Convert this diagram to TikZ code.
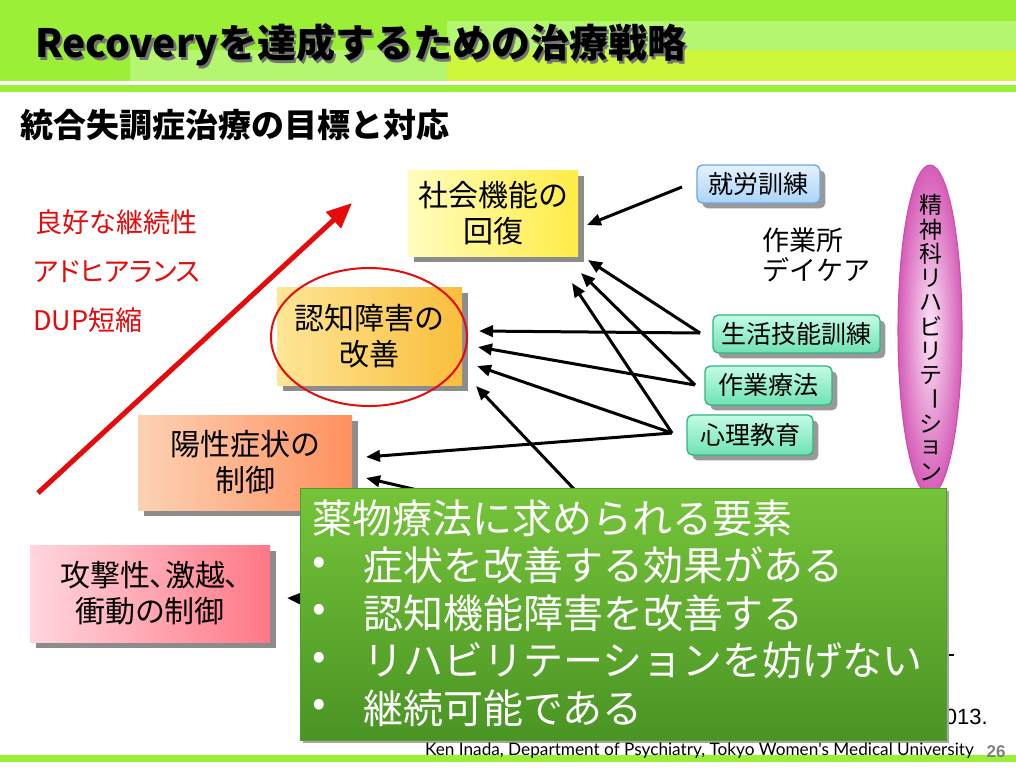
\documentclass[tikz,border=0pt]{standalone}
\usepackage{fontspec}
\usepackage{graphicx}
\setmainfont{Noto Sans CJK JP}
\newfontfamily\jpprop[RawFeature=+palt]{Noto Sans CJK JP}
\newfontfamily\arialf{Liberation Sans}
\newfontfamily\footf{Lato}
\usetikzlibrary{arrows.meta,shadows,shapes.geometric}
\definecolor{hdgreen}{RGB}{155,240,55}
\definecolor{hdlight}{RGB}{180,246,112}
\definecolor{hdyellow}{RGB}{206,246,58}
\definecolor{redtxt}{RGB}{230,10,10}
\newcommand\chouon{\rotatebox[origin=c]{-90}{ー}}
\tikzset{
  bigbox/.style={draw=none, inner sep=0pt, align=center,
    font=\fontsize{22.5pt}{27pt}\selectfont,
    drop shadow={shadow xshift=4.5pt, shadow yshift=-4.5pt, fill=black!45, opacity=1}},
  smallbox/.style={rounded corners=4pt, inner sep=0pt, line width=1pt,
    font=\fontsize{18.75pt}{22pt}\selectfont,
    drop shadow={shadow xshift=4pt, shadow yshift=-4pt, fill=black!40, opacity=1}},
  bluebox/.style={smallbox, draw={rgb,255:red,110;green,165;blue,220},
    top color={rgb,255:red,228;green,242;blue,255}, bottom color={rgb,255:red,170;green,212;blue,248}},
  tealbox/.style={smallbox, draw={rgb,255:red,50;green,180;blue,130},
    top color={rgb,255:red,196;green,252;blue,230}, bottom color={rgb,255:red,110;green,226;blue,178}},
  blk/.style={line width=2.25pt, -{Triangle[length=10.5pt,width=8.5pt]}},
  redlbl/.style={anchor=west, inner sep=0pt, text=redtxt, font=\fontsize{20.25pt}{24pt}\selectfont},
  greentxt/.style={anchor=west, inner sep=0pt, text=white, font=\fontsize{30pt}{34pt}\selectfont},
  titlefont/.style={anchor=west, inner sep=0pt, font=\bfseries\fontsize{29.25pt}{32pt}\selectfont},
}
\begin{document}
\begin{tikzpicture}[x=0.75pt,y=-0.75pt]
\useasboundingbox (0,0) rectangle (1016,768);
\fill[white] (0,0) rectangle (1016,768);
% header
\fill[hdgreen] (0,0) rectangle (1016,81);
\fill[hdlight] (447,21) rectangle (1016,50);
\fill[hdlight] (130,50) rectangle (447,81);
\fill[hdyellow] (447,50) rectangle (1016,81);
\fill[hdgreen] (0,85) rectangle (1016,92);
\node[titlefont, text=black!55] (titleshadow) at (37.5,47.5) {Recoveryを達成するための治療戦略};
\node[titlefont] (title) at (35,45) {Recoveryを達成するための治療戦略};
\node[anchor=west, inner sep=0pt, font=\bfseries\fontsize{24.75pt}{28pt}\selectfont] (sub) at (20,125) {統合失調症治療の目標と対応};
% red labels
\node[redlbl] (r1) at (35,222) {良好な継続性};
\node[redlbl, font=\jpprop\fontsize{20.25pt}{24pt}\selectfont] (r2) at (33,272) {アドヒアランス};
\node[redlbl] (r3) at (33,320) {DUP短縮};
\coordinate (ra) at (38,493);
\coordinate (rb) at (352,203);
\draw[redtxt, line width=3.75pt, -{Triangle[length=19pt,width=16pt]}] (ra) -- (rb);
% goal boxes
\node[bigbox, minimum width=127.5pt, minimum height=64.5pt,
  left color={rgb,255:red,255;green,253;blue,190}, right color={rgb,255:red,255;green,236;blue,70}]
  (soc) at (493,213) {社会機能の\\回復};
\node[bigbox, minimum width=138.75pt, minimum height=73.5pt,
  left color={rgb,255:red,253;green,230;blue,150}, right color={rgb,255:red,250;green,190;blue,60}]
  (cog) at (369.5,336) {認知障害の\\改善};
\node[bigbox, minimum width=160.5pt, minimum height=71.25pt,
  left color={rgb,255:red,252;green,210;blue,180}, right color={rgb,255:red,255;green,145;blue,95}]
  (pos) at (245,462.5) {陽性症状の\\制御};
\node[bigbox, font=\jpprop\fontsize{22.5pt}{27pt}\selectfont, minimum width=180pt, minimum height=72.75pt,
  left color={rgb,255:red,255;green,214;blue,222}, right color={rgb,255:red,255;green,120;blue,135}]
  (agg) at (150,593.5) {攻撃性、激越、\\衝動の制御};
\draw[redtxt, line width=1.5pt] (369,337) ellipse [x radius=73.5pt, y radius=51.75pt];
% right boxes
\node[bluebox, minimum width=92.25pt, minimum height=28.5pt] (job) at (758.5,184) {就労訓練};
\node[anchor=west, inner sep=0pt, align=left, font=\fontsize{20.25pt}{22.5pt}\selectfont] (day) at (762,255) {作業所\\デイケア};
\node[tealbox, minimum width=125.25pt, minimum height=28.5pt] (sst) at (796.5,334) {生活技能訓練};
\node[tealbox, minimum width=95.25pt, minimum height=29.25pt] (ot) at (768.5,385.5) {作業療法};
\node[tealbox, minimum width=94.5pt, minimum height=30pt] (psy) at (750,435) {心理教育};
% rehab ellipse
\node[ellipse, draw={rgb,255:red,200;green,80;blue,168}, line width=0.8pt, inner sep=0pt,
  minimum width=48pt, minimum height=247.5pt,
  inner color={rgb,255:red,250;green,228;blue,246}, outer color={rgb,255:red,214;green,92;blue,184}]
  (rehab) at (930,330) {};
\foreach \c [count=\i from 0] in {精,神,科,リ,ハ,ビ,リ,テ,\chouon,シ,ョ,ン}
  \node[inner sep=0pt, font=\fontsize{17.25pt}{18pt}\selectfont] (v\i) at (931,{205+24.3*\i}) {\c};
% arrows
\coordinate (jA) at (682,187);   \coordinate (sE1) at (587,225);
\coordinate (lA) at (700,333);   \coordinate (sE2) at (588,260); \coordinate (cE1) at (479,331);
\coordinate (oA) at (695,385);   \coordinate (sE3) at (581,273); \coordinate (cE2) at (478,347);
\coordinate (pA) at (672,433);   \coordinate (sE4) at (572,283); \coordinate (cE3) at (477,366); \coordinate (yE1) at (366,457);
\coordinate (h1) at (592,508);   \coordinate (cE4) at (476,386);
\coordinate (h2) at (520,514);   \coordinate (yE2) at (366,478);
\coordinate (h3) at (330,600);   \coordinate (aE) at (287,598);
\draw[blk] (jA) -- (sE1);
\draw[blk] (lA) -- (sE2);
\draw[blk] (lA) -- (cE1);
\draw[blk] (oA) -- (sE3);
\draw[blk] (oA) -- (cE2);
\draw[blk] (pA) -- (sE4);
\draw[blk] (pA) -- (cE3);
\draw[blk] (pA) -- (yE1);
\draw[blk] (h1) -- (cE4);
\draw[blk] (h2) -- (yE2);
\draw[blk] (h3) -- (aE);
% partly hidden text
\node[anchor=east, inner sep=0pt, font=\arialf\fontsize{16.5pt}{18pt}\selectfont] (yr) at (988,717) {2013.};
\draw[line width=0.8pt] (940,655) -- (954,655);
\fill (947,632) circle (0.8pt);
\fill (947,642) circle (0.8pt);
% green box
\node[draw={rgb,255:red,80;green,160;blue,40}, inner sep=0pt, minimum width=484.5pt, minimum height=189pt,
  top color={rgb,255:red,118;green,196;blue,58}, bottom color={rgb,255:red,74;green,148;blue,36},
  drop shadow={shadow xshift=2pt, shadow yshift=-2pt, fill=black!35, opacity=1}]
  (gbox) at (623,614) {};
\node[greentxt] (g0) at (312,518) {薬物療法に求められる要素};
\foreach \t [count=\i from 1] in {症状を改善する効果がある,認知機能障害を改善する,リハビリテーションを妨げない,継続可能である}{
  \node[greentxt] (b\i) at (312,{518+47.5*\i}) {•};
  \node[greentxt] (g\i) at (363,{518+47.5*\i}) {\t};
}
% footer
\fill[hdgreen] (0,755) rectangle (1016,762);
\node[anchor=east, inner sep=0pt, font=\footf\fontsize{12.9pt}{14pt}\selectfont] (foot) at (974,751) {Ken Inada, Department of Psychiatry, Tokyo Women's Medical University};
\node[inner sep=0pt, text=black!50, font=\arialf\bfseries\fontsize{12.75pt}{14pt}\selectfont] (pg) at (996,752) {26};
\end{tikzpicture}
\end{document}
